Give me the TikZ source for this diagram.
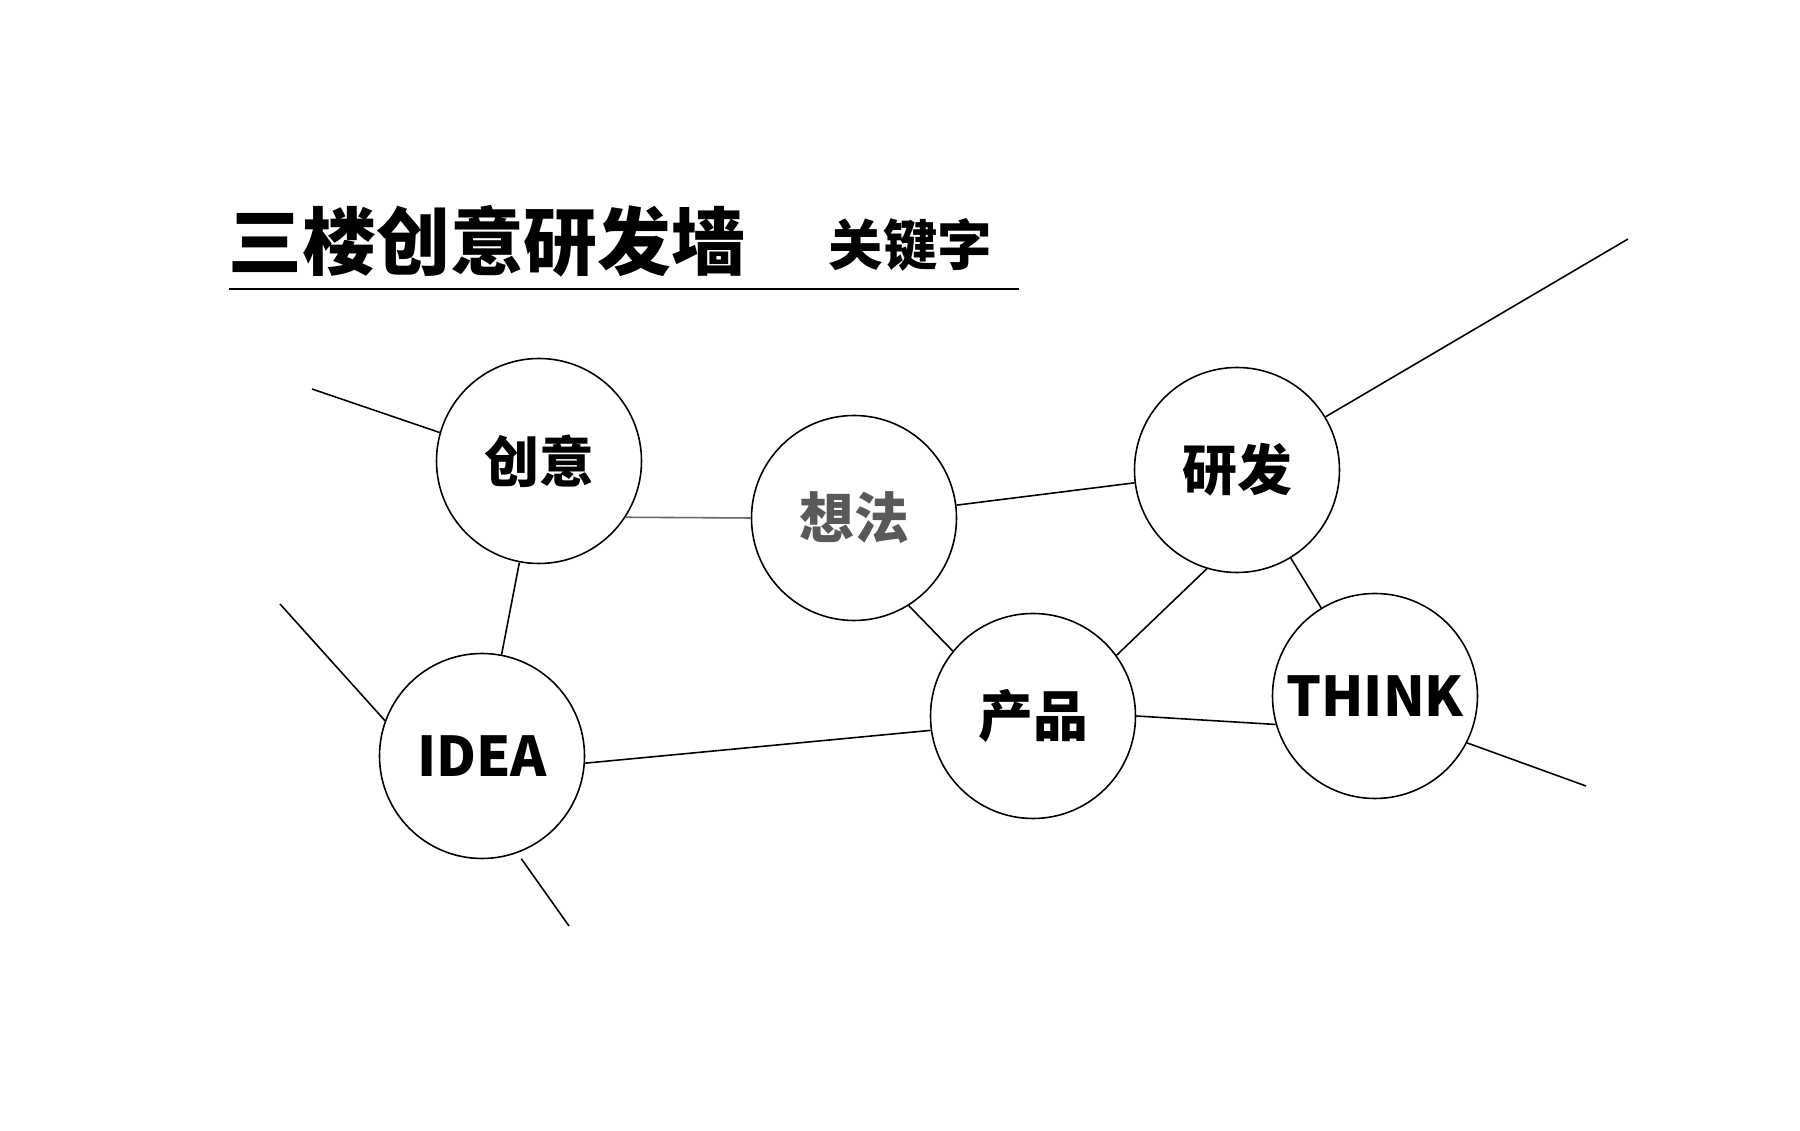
\documentclass[tikz,border=0pt]{standalone}
\usepackage{fontspec}
\newfontfamily\cjk{Noto Sans CJK SC}
\newfontfamily\cjkheavy{Noto Sans CJK SC Black}
\usetikzlibrary{positioning}
\begin{document}
\begin{tikzpicture}[bubble/.style={circle,draw,line width=0.45pt,minimum size=2.05cm,inner sep=0pt,font=\cjk\bfseries\fontsize{15.6}{15.6}\selectfont},
link/.style={line width=0.45pt}]
\useasboundingbox (0,0) rectangle (18,11.31);

\node[anchor=west,inner sep=0pt,font=\cjkheavy\fontsize{21}{21}\selectfont] (title) at (2.28,8.90) {三楼创意研发墙};
\node[anchor=west,inner sep=0pt,font=\cjkheavy\fontsize{15.5}{15.5}\selectfont] (keys) at (8.28,8.86) {关键字};
\draw[line width=0.8pt] (2.29,8.42) -- (10.19,8.42);

\node[bubble] (chuangyi) at (5.39,6.70) {创意};
\node[bubble,text=black!65] (xiangfa) at (8.54,6.13) {想法};
\node[bubble] (yanfa) at (12.37,6.61) {研发};
\node[bubble] (idea) at (4.82,3.75) {IDEA};
\node[bubble] (chanpin) at (10.33,4.15) {产品};
\node[bubble] (think) at (13.75,4.35) {THINK};

\coordinate (l1) at (3.12,7.42);
\coordinate (l2) at (2.80,5.27);
\coordinate (b1) at (5.69,2.05);
\coordinate (r1) at (16.28,8.92);
\coordinate (r2) at (15.86,3.45);

\draw[link] (chuangyi.164.4) -- (l1);
\draw[link,black!60] (chuangyi.-33.6) -- (xiangfa.west);
\draw[link] (chuangyi) -- (idea);
\draw[link] (xiangfa) -- (yanfa);
\draw[link] (xiangfa.-58) -- (chanpin.141);
\draw[link] (yanfa.-107.6) -- (chanpin.36.7);
\draw[link] (yanfa) -- (think);
\draw[link] (yanfa.31) -- (r1);
\draw[link] (idea.-4.3) -- (chanpin.-172.3);
\draw[link] (chanpin.0) -- (think.-164.8);
\draw[link] (think.-27.6) -- (r2);
\draw[link] (idea.160.4) -- (l2);
\draw[link,shorten <=0.07cm] (idea.-70) -- (b1);
\end{tikzpicture}
\end{document}
